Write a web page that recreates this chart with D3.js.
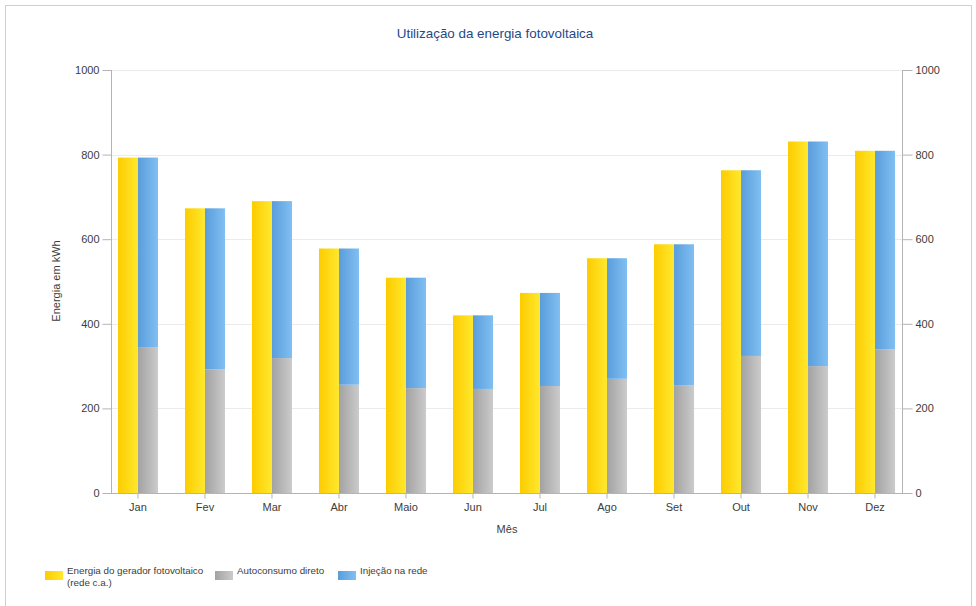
<!DOCTYPE html>
<html>
<head>
<meta charset="utf-8">
<script src="https://cdn.jsdelivr.net/npm/d3@7"></script>
<style>
  html, body { margin: 0; padding: 0; background: #fff; }
  svg { display: block; font-family: "Liberation Sans", Arial, sans-serif; }
</style>
</head>
<body>
<svg id="chart" width="976" height="606"></svg>
<script>
// Monthly PV energy use (kWh)
const months = ["Jan", "Fev", "Mar", "Abr", "Maio", "Jun", "Jul", "Ago", "Set", "Out", "Nov", "Dez"];
const generated = [793, 673, 690, 578, 509, 420, 473, 555, 588, 763, 831, 809];
const selfConsumption = [345, 292, 319, 256, 248, 246, 253, 270, 255, 324, 300, 340];
const gridInjection = generated.map((g, i) => g - selfConsumption[i]);
const yTicks = [0, 200, 400, 600, 800, 1000];

const legendItems = [
  { key: "gen", lines: ["Energia do gerador fotovoltaico", "(rede c.a.)"] },
  { key: "self", lines: ["Autoconsumo direto"] },
  { key: "grid", lines: ["Injeção na rede"] }
];

(function draw() {
  const svg = d3.select("#chart");
  const plotL = 111, plotR = 902, plotT = 70, plotB = 493;

  // outer frame
  svg.append("rect")
    .attr("x", 5.5).attr("y", 5.5).attr("width", 966).attr("height", 610)
    .attr("fill", "none").attr("stroke", "#cfcfcf");

  // gradients
  const defs = svg.append("defs");
  function grad(id, c0, c1) {
    const g = defs.append("linearGradient").attr("id", id)
      .attr("x1", "0%").attr("x2", "100%").attr("y1", "0%").attr("y2", "0%");
    g.append("stop").attr("offset", "0%").attr("stop-color", c0);
    g.append("stop").attr("offset", "100%").attr("stop-color", c1);
  }
  grad("gGen", "#fccc00", "#ffe82e");
  grad("gSelf", "#a2a2a2", "#cbcbcb");
  grad("gGrid", "#5a9ddb", "#80bff2");
  const fills = { gen: "url(#gGen)", self: "url(#gSelf)", grid: "url(#gGrid)" };

  const x = d3.scaleBand().domain(months).range([plotL, plotR])
    .paddingInner(0.403).paddingOuter(0.104);
  const y = d3.scaleLinear().domain([0, 1000]).range([plotB, plotT]);
  const bw = x.bandwidth() / 2;

  // grid lines
  svg.append("g").selectAll("line").data(yTicks.filter(d => d > 0)).join("line")
    .attr("x1", plotL).attr("x2", plotR)
    .attr("y1", d => Math.round(y(d)) + 0.5).attr("y2", d => Math.round(y(d)) + 0.5)
    .attr("stroke", "#ebebeb");

  // bars: generated energy
  svg.append("g").selectAll("rect").data(months).join("rect")
    .attr("x", d => x(d))
    .attr("y", (d, i) => y(generated[i]))
    .attr("width", bw)
    .attr("height", (d, i) => y(0) - y(generated[i]))
    .attr("fill", fills.gen);

  // stacked: self consumption + grid injection
  svg.append("g").selectAll("rect").data(months).join("rect")
    .attr("x", d => x(d) + bw)
    .attr("y", (d, i) => y(selfConsumption[i]))
    .attr("width", bw)
    .attr("height", (d, i) => y(0) - y(selfConsumption[i]))
    .attr("fill", fills.self);
  svg.append("g").selectAll("rect").data(months).join("rect")
    .attr("x", d => x(d) + bw)
    .attr("y", (d, i) => y(selfConsumption[i] + gridInjection[i]))
    .attr("width", bw)
    .attr("height", (d, i) => y(selfConsumption[i]) - y(selfConsumption[i] + gridInjection[i]))
    .attr("fill", fills.grid);

  // axes
  function styleAxis(g) {
    g.selectAll(".domain").remove();
    g.selectAll("line").attr("stroke", "#b4b4b4");
    g.selectAll("text").attr("fill", "#3c3c3c").style("font-size", "11px");
  }
  svg.append("g").attr("transform", `translate(${plotL + 0.5},0)`)
    .call(d3.axisLeft(y).tickValues(yTicks).tickSize(9).tickPadding(3).tickFormat(d3.format("d")))
    .call(styleAxis);
  svg.append("g").attr("transform", `translate(${plotR + 0.5},0)`)
    .call(d3.axisRight(y).tickValues(yTicks).tickSize(10).tickPadding(3).tickFormat(d3.format("d")))
    .call(styleAxis);
  svg.append("g").attr("transform", `translate(0,${plotB + 0.5})`)
    .call(d3.axisBottom(x).tickSize(5).tickPadding(5))
    .call(styleAxis);

  // axis lines
  svg.append("line").attr("x1", plotL + 0.5).attr("x2", plotL + 0.5).attr("y1", plotT).attr("y2", plotB)
    .attr("stroke", "#b4b4b4");
  svg.append("line").attr("x1", plotR + 0.5).attr("x2", plotR + 0.5).attr("y1", plotT).attr("y2", plotB)
    .attr("stroke", "#b4b4b4");
  svg.append("line").attr("x1", plotL).attr("x2", plotR + 1).attr("y1", plotB + 0.5).attr("y2", plotB + 0.5)
    .attr("stroke", "#b4b4b4");

  // title and axis titles
  svg.append("text").attr("x", 495).attr("y", 38).attr("text-anchor", "middle")
    .attr("fill", "#1e4a88").style("font-size", "13.4px")
    .text("Utilização da energia fotovoltaica");
  svg.append("text").attr("transform", "translate(60,281) rotate(-90)").attr("text-anchor", "middle")
    .attr("fill", "#3c3c3c").style("font-size", "11px").text("Energia em kWh");
  svg.append("text").attr("x", 507).attr("y", 533).attr("text-anchor", "middle")
    .attr("fill", "#3c3c3c").style("font-size", "11px").text("Mês");

  // legend
  const legendX = [45, 215, 338];
  const lg = svg.append("g").selectAll("g").data(legendItems).join("g")
    .attr("transform", (d, i) => `translate(${legendX[i]},566)`);
  lg.append("rect").attr("x", 0).attr("y", 5).attr("width", 18).attr("height", 9)
    .attr("fill", d => fills[d.key]);
  lg.append("text").attr("x", 22).attr("y", 8).attr("fill", "#3c3c3c").style("font-size", "9.8px")
    .selectAll("tspan").data(d => d.lines).join("tspan")
    .attr("x", 22).attr("dy", (d, i) => i === 0 ? 0 : 12).text(d => d);
})();
</script>
</body>
</html>
